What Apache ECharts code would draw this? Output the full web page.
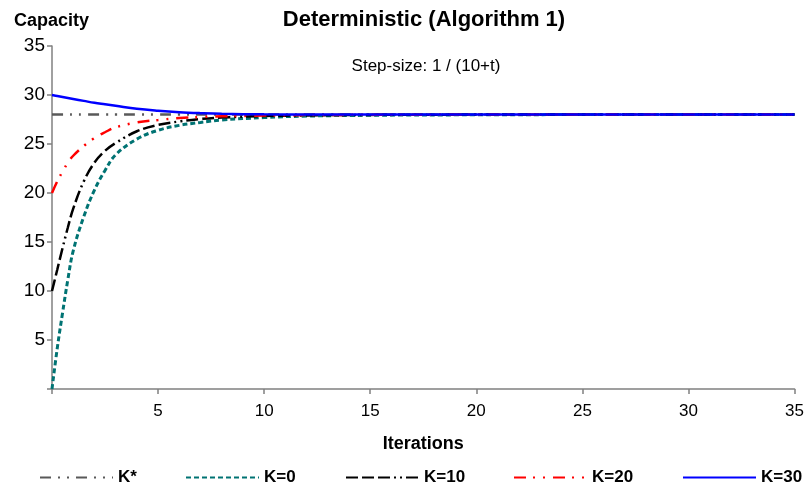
<!DOCTYPE html>
<html>
<head>
<meta charset="utf-8">
<script src="https://cdn.jsdelivr.net/npm/echarts@6/dist/echarts.min.js"></script>
<style>html,body{margin:0;padding:0;background:#fff}#c{width:807px;height:492px}</style>
</head>
<body>
<div id="c"></div>
<script>
const iterations = [0, 0.25, 0.5, 0.75, 1, 1.5, 2, 2.5, 3, 4, 5, 6, 7, 8, 10, 12, 15, 20, 25, 30, 35];
const kStar = [28, 28, 28, 28, 28, 28, 28, 28, 28, 28, 28, 28, 28, 28, 28, 28, 28, 28, 28, 28, 28];
const k0  = [0, 4.2, 7.8, 11.2, 14.1, 17.6, 20.3, 22.3, 23.9, 25.5, 26.4, 26.9, 27.2, 27.45, 27.7, 27.85, 27.93, 27.98, 28, 28, 28];
const k10 = [10, 12.2, 14.4, 16.5, 18.4, 21.2, 23.1, 24.3, 25.1, 26.3, 26.95, 27.3, 27.55, 27.7, 27.85, 27.92, 27.97, 28, 28, 28, 28];
const k20 = [20, 21.2, 22.2, 23.1, 23.8, 24.8, 25.6, 26.2, 26.7, 27.2, 27.45, 27.65, 27.75, 27.82, 27.9, 27.95, 27.98, 28, 28, 28, 28];
const k30 = [30, 29.9, 29.8, 29.7, 29.6, 29.4, 29.2, 29.05, 28.9, 28.6, 28.4, 28.25, 28.15, 28.08, 28.03, 28.01, 28, 28, 28, 28, 28];
const tickValues = [0, 5, 10, 15, 20, 25, 30, 35];

const pairs = ys => iterations.map((x, i) => [x, ys[i]]);
const FONT = '"Liberation Sans", Arial, sans-serif';

const seriesDefs = [
  {name: 'K*', data: kStar, color: '#595959', type: [11, 7, 2, 7, 2, 7], width: 2.5},
  {name: 'K=0', data: k0, color: '#007373', type: [5, 3], width: 3},
  {name: 'K=10', data: k10, color: '#000000', type: [12, 4, 12, 4, 12, 4, 2, 4, 2, 4], width: 2.5},
  {name: 'K=20', data: k20, color: '#ff0000', type: [12, 7, 2, 8, 2, 8], width: 2.5},
  {name: 'K=30', data: k30, color: '#0000ff', type: 'solid', width: 2.5}
];
const legendLefts = [39, 185, 345, 513, 682];

const chart = echarts.init(document.getElementById('c'), null, {renderer: 'canvas'});
chart.setOption({
  animation: false,
  backgroundColor: '#ffffff',
  textStyle: {fontFamily: FONT},
  title: [
    {text: 'Deterministic (Algorithm 1)', left: 419, top: 4, textAlign: 'center',
     textStyle: {fontFamily: FONT, fontSize: 22, fontWeight: 'bold', color: '#000'}},
    {text: 'Step-size: 1 / (10+t)', left: 421, top: 53, textAlign: 'center',
     textStyle: {fontFamily: FONT, fontSize: 17, fontWeight: 'normal', color: '#000'}},
    {text: 'Capacity', left: 9, top: 7,
     textStyle: {fontFamily: FONT, fontSize: 18, fontWeight: 'bold', color: '#000'}}
  ],
  legend: seriesDefs.map((s, i) => ({
    show: true, padding: 0,
    data: [s.name], left: legendLefts[i], top: 469, itemWidth: 73, itemHeight: 18, itemGap: 2,
    itemStyle: {opacity: 0},
    textStyle: {fontFamily: FONT, fontSize: 17, fontWeight: 'bold', color: '#000'}
  })),
  grid: {left: 52, right: 11, top: 46, bottom: 103, containLabel: false},
  xAxis: {
    type: 'value', min: 0, max: 35, interval: 5,
    name: 'Iterations', nameLocation: 'middle', nameGap: 46,
    nameTextStyle: {fontFamily: FONT, fontSize: 18, fontWeight: 'bold', color: '#000'},
    axisLine: {lineStyle: {color: '#808080', width: 1.5}},
    axisTick: {show: true, inside: false, length: 5, lineStyle: {color: '#808080', width: 1.5}},
    axisLabel: {fontFamily: FONT, fontSize: 17, color: '#000', margin: 14,
      formatter: v => (v === 0 ? '' : tickValues.includes(v) ? String(v) : '')},
    splitLine: {show: false}
  },
  yAxis: {
    type: 'value', min: 0, max: 35, interval: 5,
    axisLine: {show: true, lineStyle: {color: '#808080', width: 1.5}},
    axisTick: {show: true, inside: false, length: 5, lineStyle: {color: '#808080', width: 1.5}},
    axisLabel: {fontFamily: FONT, fontSize: 19, color: '#000', margin: 7,
      formatter: v => (v === 0 ? '' : String(v))},
    splitLine: {show: false}
  },
  series: seriesDefs.map(s => ({
    name: s.name, type: 'line', data: pairs(s.data), smooth: 0.4,
    showSymbol: false, symbol: 'none',
    color: s.color,
    lineStyle: {color: s.color, width: s.width, type: s.type},
    itemStyle: {color: s.color},
    z: s.name === 'K*' ? 1 : 2
  }))
});
</script>
</body>
</html>
